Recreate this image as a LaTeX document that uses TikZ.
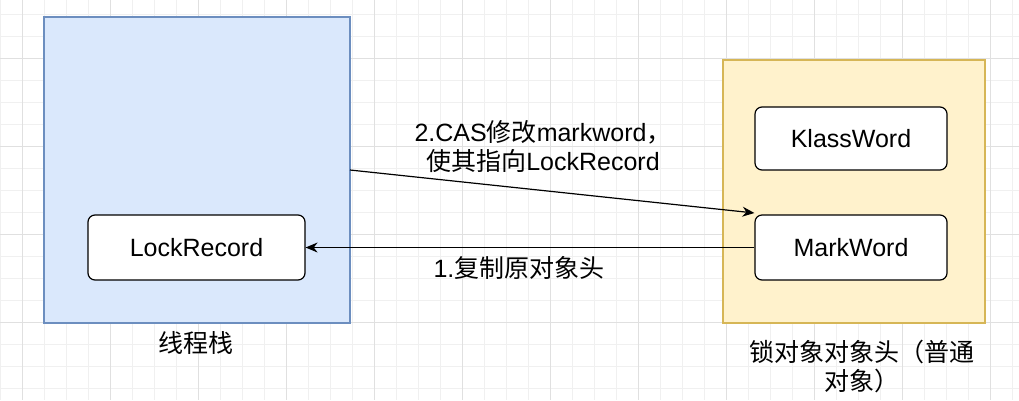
\documentclass[tikz,border=0pt]{standalone}
\usepackage{fontspec}
\setmainfont{Liberation Sans}
\newfontfamily\cjk{Noto Sans CJK SC}
\usetikzlibrary{arrows.meta}
\begin{document}
\begin{tikzpicture}[x=1pt,y=-1pt,
  box/.style={draw=black,line width=1.2pt,rounded corners=7pt,fill=white,inner sep=0},
  lbl/.style={font=\fontsize{25}{29}\selectfont,align=center},
  arr/.style={line width=1.2pt,-{Stealth[length=12pt,width=10pt]}}]
\useasboundingbox (0,0) rectangle (1019,400);
\fill[white] (0,0) rectangle (1019,400);
\foreach \x in {0,22,...,1019} \draw[black!6,line width=0.8pt] (\x,0) -- (\x,400);
\foreach \y in {14,36,...,400} \draw[black!6,line width=0.8pt] (0,\y) -- (1019,\y);
\foreach \x in {22,110,...,1019} \draw[black!12,line width=1pt] (\x,0) -- (\x,400);
\foreach \y in {58,146,...,400} \draw[black!12,line width=1pt] (0,\y) -- (1019,\y);
\node[draw={rgb,255:red,108;green,142;blue,191},fill={rgb,255:red,218;green,232;blue,252},line width=1.2pt,minimum width=306pt,minimum height=306pt,inner sep=0] (stack) at (197,170) {};
\node[draw={rgb,255:red,214;green,182;blue,86},fill={rgb,255:red,255;green,242;blue,204},line width=1.2pt,minimum width=262pt,minimum height=263pt,inner sep=0] (obj) at (854,191.5) {};
\node[box,minimum width=192pt,minimum height=63pt,lbl] (kw) at (851,138.5) {KlassWord};
\node[box,minimum width=192pt,minimum height=65pt,lbl] (mw) at (851,247.5) {MarkWord};
\node[box,minimum width=217pt,minimum height=65pt,lbl] (lr) at (196.5,247.5) {LockRecord};
\coordinate (s) at (350,170);
\draw[arr] (s) -- (mw.west |- 0,213);
\draw[arr] (mw.west) -- (lr.east);
\node[lbl] (t2) at (543,147) {2.CAS{\cjk 修改}markword{\cjk ，}\\{\cjk 使其指向}LockRecord};
\node[lbl] (t1) at (519,268) {1.{\cjk 复制原对象头}};
\node[lbl] (ts) at (196,343) {\cjk 线程栈};
\node[lbl] (to) at (862,366) {{\cjk 锁对象对象头（普通}\\{\cjk 对象）}};
\end{tikzpicture}
\end{document}
